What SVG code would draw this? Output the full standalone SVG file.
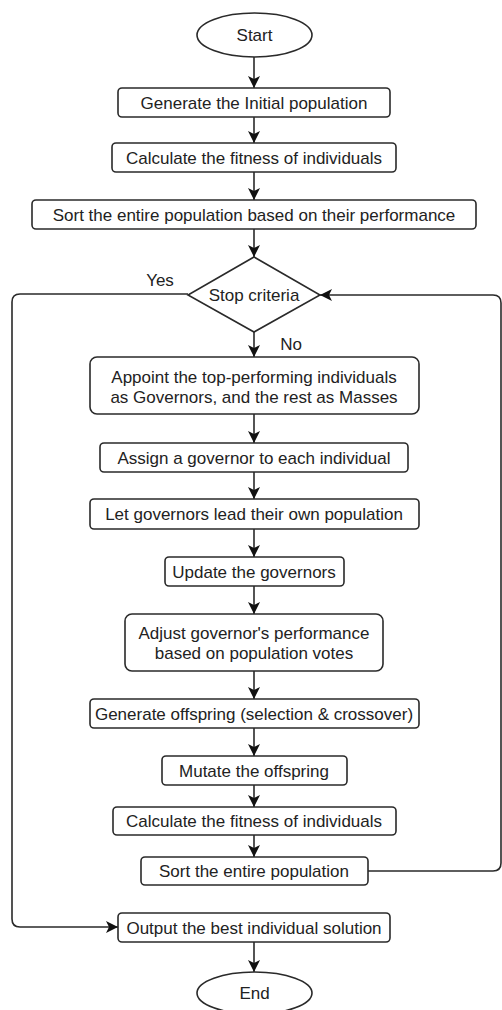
<svg xmlns="http://www.w3.org/2000/svg" width="502" height="1010" viewBox="0 0 502 1010">
<style>
.n{fill:#fff;stroke:#2a2a2a;stroke-width:1.6}
.t{font-family:"Liberation Sans",Arial,sans-serif;font-size:17px;fill:#222;text-anchor:middle}
.c{fill:none;stroke:#2a2a2a;stroke-width:1.6}
</style>
<defs>
<marker id="a" viewBox="0 0 12 12" refX="12" refY="6" markerWidth="12" markerHeight="12" markerUnits="userSpaceOnUse" orient="auto">
<path d="M0,0 L12,6 L0,12 L3,6 Z" fill="#111"/>
</marker>
</defs>
<rect width="502" height="1010" fill="#fff"/>
<g id="connectors">
<line class="c" x1="254" y1="57" x2="254" y2="88" marker-end="url(#a)"/>
<line class="c" x1="254" y1="117" x2="254" y2="143" marker-end="url(#a)"/>
<line class="c" x1="254" y1="172" x2="254" y2="200" marker-end="url(#a)"/>
<line class="c" x1="254" y1="229" x2="254" y2="257" marker-end="url(#a)"/>
<line class="c" x1="254" y1="332" x2="254" y2="357" marker-end="url(#a)"/>
<line class="c" x1="254" y1="414" x2="254" y2="443" marker-end="url(#a)"/>
<line class="c" x1="254" y1="472" x2="254" y2="499" marker-end="url(#a)"/>
<line class="c" x1="254" y1="529" x2="254" y2="557" marker-end="url(#a)"/>
<line class="c" x1="254" y1="586" x2="254" y2="614" marker-end="url(#a)"/>
<line class="c" x1="254" y1="671" x2="254" y2="699" marker-end="url(#a)"/>
<line class="c" x1="254" y1="728" x2="254" y2="756" marker-end="url(#a)"/>
<line class="c" x1="254" y1="785" x2="254" y2="807" marker-end="url(#a)"/>
<line class="c" x1="254" y1="835" x2="254" y2="857" marker-end="url(#a)"/>
<line class="c" x1="254" y1="942" x2="254" y2="972" marker-end="url(#a)"/>
<path class="c" d="M368,871 H493 Q501,871 501,863 V303 Q501,295 493,295 H320" marker-end="url(#a)"/>
<path class="c" d="M188,294 H20 Q12,294 12,302 V919 Q12,927 20,927 H118" marker-end="url(#a)"/>
<text class="t" x="160" y="286">Yes</text>
<text class="t" x="291" y="350">No</text>
</g>
<g id="start"><ellipse class="n" cx="254.5" cy="35" rx="57.5" ry="22"/><text class="t" x="254.5" y="41">Start</text></g>
<g id="init"><rect class="n" x="118" y="88" width="272" height="29" rx="4"/><text class="t" x="254" y="109">Generate the Initial population</text></g>
<g id="fitness1"><rect class="n" x="112" y="143" width="284" height="29" rx="4"/><text class="t" x="254" y="164">Calculate the fitness of individuals</text></g>
<g id="sort1"><rect class="n" x="32" y="200" width="444" height="29" rx="4"/><text class="t" x="254" y="221">Sort the entire population based on their performance</text></g>
<g id="stop"><polygon class="n" points="254,257 320,295 254,332 188,295"/><text class="t" x="254" y="301">Stop criteria</text></g>
<g id="appoint"><rect class="n" x="90" y="357" width="329" height="57" rx="7"/><text class="t" x="254" y="383">Appoint the top-performing individuals</text><text class="t" x="254" y="403">as Governors, and the rest as Masses</text></g>
<g id="assign"><rect class="n" x="100" y="443" width="308" height="29" rx="4"/><text class="t" x="254" y="464">Assign a governor to each individual</text></g>
<g id="lead"><rect class="n" x="90" y="499" width="329" height="30" rx="4"/><text class="t" x="254" y="520">Let governors lead their own population</text></g>
<g id="update"><rect class="n" x="165" y="557" width="179" height="29" rx="4"/><text class="t" x="254" y="578">Update the governors</text></g>
<g id="adjust"><rect class="n" x="125" y="614" width="258" height="57" rx="7"/><text class="t" x="254" y="639">Adjust governor's performance</text><text class="t" x="254" y="659">based on population votes</text></g>
<g id="offspring"><rect class="n" x="90" y="699" width="329" height="29" rx="4"/><text class="t" x="254" y="720">Generate offspring (selection &amp; crossover)</text></g>
<g id="mutate"><rect class="n" x="162" y="756" width="185" height="29" rx="4"/><text class="t" x="254" y="777">Mutate the offspring</text></g>
<g id="fitness2"><rect class="n" x="113" y="807" width="283" height="28" rx="4"/><text class="t" x="254" y="827">Calculate the fitness of individuals</text></g>
<g id="sort2"><rect class="n" x="141" y="857" width="227" height="28" rx="4"/><text class="t" x="254" y="877">Sort the entire population</text></g>
<g id="output"><rect class="n" x="118" y="913" width="272" height="29" rx="4"/><text class="t" x="254" y="934">Output the best individual solution</text></g>
<g id="end"><ellipse class="n" cx="254.5" cy="993" rx="57.5" ry="21"/><text class="t" x="254.5" y="999">End</text></g>
</svg>
